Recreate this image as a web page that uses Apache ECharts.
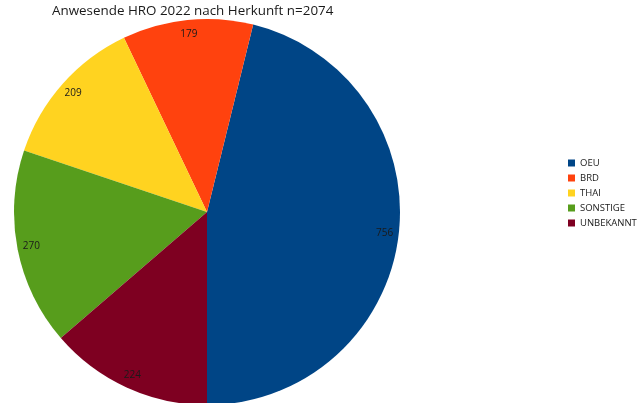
<!DOCTYPE html>
<html>
<head>
<meta charset="utf-8">
<script src="https://cdn.jsdelivr.net/npm/echarts@6/dist/echarts.min.js"></script>
<style>
html, body { margin: 0; padding: 0; background: #fff; }
#chart { width: 637px; height: 403px; }
</style>
</head>
<body>
<div id="chart"></div>
<script>
// Herkunft + Anzahl
var categories = ['OEU', 'BRD', 'THAI', 'SONSTIGE', 'UNBEKANNT'];
var values = [756, 179, 209, 270, 224];
var colors = ['#004586', '#ff420e', '#ffd320', '#579d1c', '#7e0021'];

var dom = document.getElementById('chart');
var myChart = echarts.init(dom);

var pieData = categories.map(function (c, i) {
    return { name: c, value: values[i], itemStyle: { color: colors[i] } };
});
var labelData = categories.map(function (c, i) {
    return { name: c, value: values[i], itemStyle: { color: 'rgba(0,0,0,0)' } };
});

var option = {
    backgroundColor: '#fff',
    animation: false,
    title: {
        text: 'Anwesende HRO 2022 nach Herkunft n=2074',
        left: 52,
        top: 5,
        padding: 0,
        textStyle: {
            fontFamily: 'Open Sans',
            fontWeight: 'normal',
            fontSize: 13.4,
            color: '#1a1a1a'
        }
    },
    legend: {
        orient: 'vertical',
        left: 568,
        top: 158,
        right: 0,
        padding: 0,
        itemWidth: 7,
        itemHeight: 7,
        itemGap: 5,
        icon: 'rect',
        textStyle: {
            fontFamily: 'Open Sans',
            fontSize: 9.5,
            lineHeight: 10,
            color: '#1a1a1a'
        },
        data: categories
    },
    series: [
        {
            // die Tortenstuecke
            name: 'Herkunft',
            type: 'pie',
            center: [207, 212],
            radius: [0, 193],
            startAngle: -90,
            clockwise: false,
            label: { show: false },
            labelLine: { show: false },
            itemStyle: { borderWidth: 0 },
            emphasis: { disabled: true },
            data: pieData
        },
        {
            // nur fuer die Zahlen am Rand
            name: 'Werte',
            type: 'pie',
            center: [207, 212],
            radius: [164, 188],
            startAngle: -90,
            clockwise: false,
            silent: true,
            legendHoverLink: false,
            label: {
                show: true,
                position: 'inside',
                formatter: '{c}',
                fontFamily: 'Open Sans',
                fontSize: 10,
                color: '#1a1a1a'
            },
            labelLine: { show: false },
            itemStyle: { borderWidth: 0 },
            emphasis: { disabled: true },
            data: labelData
        }
    ]
};

myChart.setOption(option);
window.onresize = function () {
    myChart.resize();
};
</script>
</body>
</html>
